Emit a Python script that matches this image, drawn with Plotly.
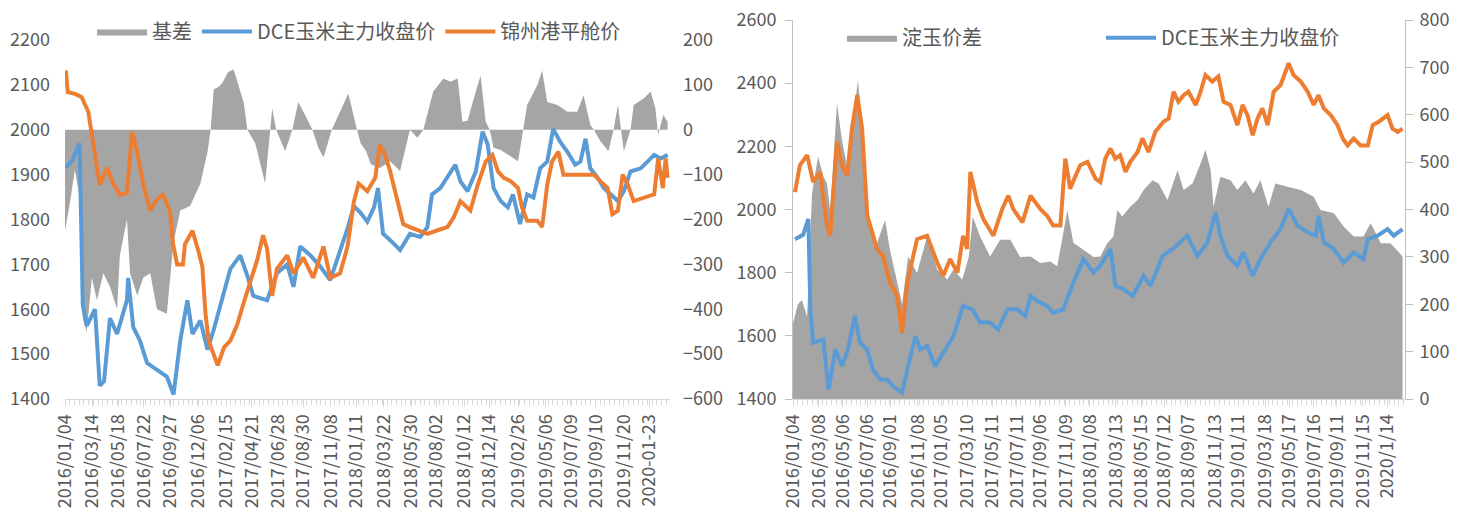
import plotly.graph_objects as go

# ---------------- Left panel data ----------------
basis_dates = ["2016-01-04","2016-01-17","2016-01-29","2016-02-10","2016-02-18","2016-02-28","2016-03-12","2016-03-25",
               "2016-04-10","2016-04-27","2016-05-15","2016-05-22","2016-06-09","2016-06-17","2016-07-05","2016-07-20",
               "2016-08-07","2016-08-24","2016-09-18","2016-10-05","2016-10-22","2016-11-16","2016-12-12","2016-12-30",
               "2017-01-07","2017-01-15","2017-01-27","2017-02-06","2017-02-20","2017-03-06","2017-03-15","2017-04-01",
               "2017-04-10","2017-04-30","2017-05-17","2017-05-25","2017-06-07","2017-06-12","2017-06-22","2017-07-15",
               "2017-08-02","2017-08-17","2017-08-30","2017-09-22","2017-10-07","2017-10-20","2017-11-10","2017-11-25",
               "2017-12-22","2018-01-10","2018-01-22","2018-02-05","2018-02-17","2018-03-12","2018-04-07","2018-05-02",
               "2018-05-27","2018-06-15","2018-06-30","2018-07-25","2018-08-20","2018-09-07","2018-09-25","2018-10-07",
               "2018-10-20","2018-11-05","2018-11-22","2018-12-05","2018-12-15","2018-12-25","2019-01-12","2019-01-30",
               "2019-02-25","2019-03-10","2019-03-20","2019-04-15","2019-04-27","2019-05-10","2019-06-05","2019-06-30",
               "2019-07-25","2019-08-10","2019-08-27","2019-09-05","2019-09-22","2019-10-12","2019-10-25","2019-11-05",
               "2019-11-12","2019-11-20","2019-12-07","2019-12-15","2020-01-10","2020-01-27","2020-02-08","2020-02-15",
               "2020-02-28","2020-03-10"]
basis_values = [-225,-160,-90,-150,-420,-450,-330,-380,
                -320,-350,-400,-280,-200,-320,-370,-330,
                -320,-400,-410,-250,-180,-170,-120,-50,
                0,90,95,105,128,135,110,60,
                0,-30,-90,-120,0,48,0,-48,
                0,62,40,0,-40,-62,0,30,
                81,10,-30,-48,-77,-85,-70,-92,
                0,-18,0,85,114,107,114,18,
                20,70,121,18,0,-40,-45,-55,
                -70,0,55,100,132,62,55,40,
                40,77,11,0,-26,-48,0,55,
                0,-48,0,55,70,85,48,-11,
                33,18]

dce_left_dates = ["2016-01-04","2016-01-22","2016-02-10","2016-02-18","2016-02-28","2016-03-20","2016-04-01","2016-04-12",
                  "2016-04-27","2016-05-15","2016-06-09","2016-06-12","2016-06-25","2016-07-12","2016-07-30","2016-08-24",
                  "2016-09-18","2016-10-05","2016-10-22","2016-11-09","2016-11-22","2016-12-12","2016-12-30","2017-01-15",
                  "2017-02-01","2017-02-26","2017-03-23","2017-04-10","2017-04-25","2017-05-30","2017-06-24","2017-07-20",
                  "2017-08-05","2017-08-22","2017-09-17","2017-10-12","2017-11-06","2017-11-24","2017-12-20","2018-01-05",
                  "2018-01-22","2018-02-08","2018-02-25","2018-03-07","2018-03-20","2018-04-07","2018-05-02","2018-05-27",
                  "2018-06-22","2018-07-10","2018-07-22","2018-08-12","2018-08-30","2018-09-19","2018-10-02","2018-10-20",
                  "2018-11-10","2018-11-27","2018-12-10","2018-12-25","2019-01-12","2019-01-30","2019-02-12","2019-03-02",
                  "2019-03-20","2019-04-05","2019-04-22","2019-05-10","2019-05-25","2019-06-12","2019-06-30","2019-07-20",
                  "2019-08-02","2019-08-15","2019-08-27","2019-09-15","2019-09-30","2019-10-17","2019-11-05","2019-11-20",
                  "2019-12-07","2020-01-02","2020-01-20","2020-02-05","2020-02-22","2020-03-10"]
dce_left_values = [1915,1930,1970,1610,1563,1600,1430,1440,
                   1580,1545,1620,1670,1560,1530,1480,1465,
                   1450,1410,1530,1620,1545,1575,1510,1555,
                   1610,1690,1720,1675,1630,1620,1680,1700,
                   1650,1740,1720,1695,1665,1710,1780,1830,
                   1815,1795,1827,1870,1768,1754,1732,1768,
                   1761,1783,1856,1870,1893,1922,1885,1863,
                   1907,1996,1967,1870,1841,1827,1856,1790,
                   1856,1849,1914,1929,2002,1973,1951,1922,
                   1929,1980,1914,1893,1870,1856,1841,1863,
                   1907,1914,1929,1944,1936,1944]

jinzhou_dates = ["2016-01-06","2016-01-11","2016-01-29","2016-02-15","2016-03-03","2016-03-15","2016-03-27","2016-04-01",
                 "2016-04-20","2016-05-05","2016-05-22","2016-06-09","2016-06-22","2016-07-05","2016-07-20","2016-08-07",
                 "2016-08-24","2016-09-08","2016-09-26","2016-10-04","2016-10-14","2016-10-29","2016-11-03","2016-11-22",
                 "2016-12-07","2016-12-17","2016-12-25","2017-01-02","2017-01-25","2017-02-10","2017-02-26","2017-03-15",
                 "2017-04-01","2017-04-17","2017-05-05","2017-05-20","2017-05-30","2017-06-12","2017-06-24","2017-07-20",
                 "2017-08-05","2017-08-30","2017-09-24","2017-10-20","2017-11-06","2017-12-01","2017-12-20","2018-01-05",
                 "2018-01-17","2018-02-08","2018-02-28","2018-03-12","2018-03-25","2018-04-07","2018-04-25","2018-05-10",
                 "2018-05-27","2018-06-17","2018-07-10","2018-08-05","2018-08-30","2018-09-15","2018-10-02","2018-10-27",
                 "2018-11-15","2018-12-05","2018-12-22","2019-01-05","2019-01-20","2019-02-07","2019-02-25","2019-03-07",
                 "2019-03-20","2019-04-15","2019-04-27","2019-05-10","2019-05-22","2019-06-07","2019-06-20","2019-07-15",
                 "2019-09-05","2019-09-22","2019-10-10","2019-10-22","2019-11-05","2019-11-17","2019-11-30","2019-12-15",
                 "2020-01-10","2020-02-05","2020-02-15","2020-02-27","2020-03-05","2020-03-10"]
jinzhou_values = [2132,2084,2080,2073,2040,1968,1893,1877,
                  1915,1880,1855,1860,1995,1950,1880,1820,
                  1845,1855,1820,1745,1700,1700,1745,1775,
                  1730,1695,1590,1530,1475,1515,1530,1565,
                  1615,1660,1710,1765,1735,1630,1690,1720,
                  1680,1715,1670,1740,1670,1680,1740,1840,
                  1880,1863,1893,1966,1944,1907,1841,1790,
                  1783,1776,1768,1776,1783,1805,1841,1820,
                  1878,1929,1944,1907,1893,1885,1870,1827,
                  1797,1797,1783,1878,1929,1951,1900,1900,
                  1900,1885,1870,1812,1820,1900,1878,1841,
                  1849,1856,1936,1870,1936,1893]

left_tick_dates = ["2016-01-04","2016-03-14","2016-05-18","2016-07-22","2016-09-27","2016-12-06","2017-02-15",
                   "2017-04-21","2017-06-28","2017-08-30","2017-11-08","2018-01-11","2018-03-22","2018-05-30",
                   "2018-08-02","2018-10-12","2018-12-14","2019-02-26","2019-05-06","2019-07-09","2019-09-10",
                   "2019-11-20","2020-01-23"]
left_tick_text = ["2016/01/04","2016/03/14","2016/05/18","2016/07/22","2016/09/27","2016/12/06","2017/02/15",
                  "2017/04/21","2017/06/28","2017/08/30","2017/11/08","2018/01/11","2018/03/22","2018/05/30",
                  "2018/08/02","2018/10/12","2018/12/14","2019/02/26","2019/05/06","2019/07/09","2019/09/10",
                  "2019/11/20","2020-01-23"]

# ---------------- Right panel data ----------------
spread_dates = ["2016-01-04","2016-01-16","2016-01-26","2016-02-08","2016-02-20","2016-03-06","2016-03-19","2016-03-28",
                "2016-04-05","2016-04-22","2016-05-04","2016-05-17","2016-06-01","2016-06-13","2016-06-26","2016-07-08",
                "2016-07-30","2016-08-19","2016-08-31","2016-09-18","2016-09-30","2016-10-15","2016-11-06","2016-12-01",
                "2016-12-26","2017-01-20","2017-02-04","2017-02-26","2017-03-14","2017-03-24","2017-04-11","2017-05-06",
                "2017-05-31","2017-06-25","2017-07-19","2017-08-14","2017-09-07","2017-10-02","2017-10-19","2017-11-03",
                "2017-11-13","2017-11-28","2017-12-23","2018-01-17","2018-02-03","2018-02-20","2018-03-07","2018-03-17",
                "2018-03-29","2018-04-18","2018-05-06","2018-05-21","2018-06-12","2018-06-27","2018-07-19","2018-08-13",
                "2018-08-28","2018-09-19","2018-10-09","2018-10-21","2018-11-03","2018-11-10","2018-11-27","2018-12-22",
                "2019-01-08","2019-01-28","2019-02-17","2019-03-06","2019-03-26","2019-04-12","2019-05-12","2019-06-14",
                "2019-07-16","2019-08-02","2019-09-04","2019-09-28","2019-10-23","2019-11-16","2019-12-04","2019-12-29",
                "2020-01-22","2020-02-21"]
spread_values = [160,200,209,174,434,512,470,455,
                 399,624,547,491,596,673,526,392,
                 329,378,315,245,200,301,266,343,
                 273,252,273,252,300,385,343,301,
                 336,336,300,301,287,290,280,350,
                 399,330,315,300,301,329,343,399,
                 385,406,420,441,462,455,420,483,
                 441,455,497,526,483,406,469,462,
                 441,462,434,462,406,455,448,441,
                 427,399,392,364,343,343,371,329,
                 329,301]

dce_right_dates = ["2016-01-09","2016-01-29","2016-02-11","2016-02-16","2016-02-23","2016-03-19","2016-04-01","2016-04-18",
                   "2016-05-04","2016-05-19","2016-06-05","2016-06-18","2016-07-05","2016-07-20","2016-08-07","2016-08-24",
                   "2016-09-08","2016-09-30","2016-10-13","2016-11-02","2016-11-14","2016-12-01","2016-12-21","2017-01-10",
                   "2017-02-04","2017-02-28","2017-03-23","2017-04-11","2017-05-06","2017-05-26","2017-06-18","2017-07-12",
                   "2017-08-01","2017-08-14","2017-09-07","2017-09-24","2017-10-09","2017-11-03","2017-11-28","2017-12-23",
                   "2018-01-17","2018-02-03","2018-02-28","2018-03-12","2018-04-01","2018-04-24","2018-05-21","2018-06-07",
                   "2018-07-07","2018-08-01","2018-08-20","2018-09-06","2018-10-01","2018-10-26","2018-11-15","2018-11-27",
                   "2018-12-15","2019-01-08","2019-01-23","2019-02-15","2019-03-06","2019-03-31","2019-04-25","2019-05-15",
                   "2019-06-06","2019-07-01","2019-07-21","2019-07-28","2019-08-10","2019-09-04","2019-09-28","2019-10-23",
                   "2019-11-16","2019-11-27","2019-12-21","2020-01-15","2020-01-30","2020-02-21"]
dce_right_values = [1906,1920,1970,1684,1578,1588,1430,1557,
                    1504,1557,1663,1578,1557,1493,1462,1462,
                    1440,1420,1493,1599,1557,1568,1504,1546,
                    1599,1695,1684,1642,1642,1620,1684,1684,
                    1663,1726,1705,1695,1673,1684,1769,1843,
                    1800,1822,1875,1758,1748,1726,1790,1758,
                    1853,1875,1896,1917,1853,1896,1991,1917,
                    1853,1822,1864,1790,1843,1896,1938,2002,
                    1949,1928,1917,1980,1896,1875,1832,1864,
                    1843,1906,1917,1938,1917,1938]

starch_dates = ["2016-01-09","2016-01-21","2016-02-08","2016-02-23","2016-03-11","2016-03-28","2016-04-05","2016-04-22",
                "2016-05-04","2016-05-17","2016-05-29","2016-06-11","2016-06-23","2016-07-06","2016-07-30","2016-08-14",
                "2016-08-31","2016-09-18","2016-09-30","2016-10-13","2016-11-06","2016-12-01","2016-12-26","2017-01-10",
                "2017-01-27","2017-02-14","2017-02-28","2017-03-10","2017-03-18","2017-04-04","2017-04-19","2017-05-14",
                "2017-06-05","2017-06-20","2017-07-02","2017-07-25","2017-08-14","2017-09-07","2017-09-24","2017-10-09",
                "2017-10-27","2017-11-08","2017-11-20","2017-12-15","2018-01-02","2018-01-22","2018-02-03","2018-02-15",
                "2018-02-28","2018-03-12","2018-03-24","2018-04-06","2018-04-18","2018-05-06","2018-05-18","2018-06-02",
                "2018-06-19","2018-07-09","2018-07-22","2018-08-03","2018-08-15","2018-08-28","2018-09-09","2018-09-27",
                "2018-10-09","2018-10-21","2018-11-07","2018-11-22","2018-12-05","2018-12-22","2019-01-08","2019-01-21",
                "2019-02-02","2019-02-15","2019-02-27","2019-03-11","2019-03-24","2019-04-08","2019-04-25","2019-05-07",
                "2019-05-15","2019-05-27","2019-06-14","2019-07-01","2019-07-16","2019-07-28","2019-08-10","2019-08-27",
                "2019-09-13","2019-09-26","2019-10-08","2019-10-23","2019-11-09","2019-11-27","2019-12-09","2019-12-24",
                "2020-01-15","2020-01-27","2020-02-09","2020-02-21"]
starch_values = [2055,2140,2172,2087,2119,1949,1917,2214,
                 2140,2108,2257,2362,2257,1980,1875,1853,
                 1769,1726,1610,1769,1906,1917,1832,1790,
                 1843,1800,1917,1875,2119,2023,1970,1917,
                 2002,2044,2002,1959,2044,2002,1980,1949,
                 1949,2161,2066,2140,2151,2098,2087,2161,
                 2193,2161,2172,2119,2151,2182,2225,2182,
                 2246,2278,2288,2373,2341,2362,2373,2331,
                 2373,2426,2405,2421,2341,2331,2267,2331,
                 2299,2235,2288,2320,2267,2373,2394,2437,
                 2463,2426,2405,2373,2331,2362,2320,2299,
                 2267,2225,2203,2225,2203,2203,2267,2278,
                 2299,2256,2246,2256]

right_tick_dates = ["2016-01-04","2016-03-08","2016-05-06","2016-07-06","2016-09-01","2016-11-08","2017-01-05",
                    "2017-03-10","2017-05-11","2017-07-11","2017-09-06","2017-11-09","2018-01-08","2018-03-13",
                    "2018-05-15","2018-07-12","2018-09-07","2018-11-13","2019-01-11","2019-03-18","2019-05-17",
                    "2019-07-16","2019-09-11","2019-11-15","2020-01-14"]
right_tick_text = ["2016/01/04","2016/03/08","2016/05/06","2016/07/06","2016/09/01","2016/11/08","2017/01/05",
                   "2017/03/10","2017/05/11","2017/07/11","2017/09/06","2017/11/09","2018/01/08","2018/03/13",
                   "2018/05/15","2018/07/12","2018/09/07","2018/11/13","2019/01/11","2019/03/18","2019/05/17",
                   "2019/07/16","2019/09/11","2019/11/15","2020/1/14"]

GREY = "#A5A5A5"
BLUE = "#5B9BD5"
ORANGE = "#ED7D31"
TXT = "#595959"
FONT = "Noto Sans CJK SC"
W, H = 1467, 518

fig = go.Figure()

# Left panel
fig.add_trace(go.Scatter(x=basis_dates, y=basis_values, name="基差", mode="lines",
                         line=dict(width=0, color=GREY), fill="tozeroy", fillcolor=GREY,
                         xaxis="x", yaxis="y", legend="legend"))
fig.add_trace(go.Scatter(x=dce_left_dates, y=dce_left_values, name="DCE玉米主力收盘价", mode="lines",
                         line=dict(width=4, color=BLUE), xaxis="x", yaxis="y2", legend="legend"))
fig.add_trace(go.Scatter(x=jinzhou_dates, y=jinzhou_values, name="锦州港平舱价", mode="lines",
                         line=dict(width=4, color=ORANGE), xaxis="x", yaxis="y2", legend="legend"))

# Right panel
fig.add_trace(go.Scatter(x=spread_dates, y=spread_values, name="淀玉价差", mode="lines",
                         line=dict(width=0, color=GREY), fill="tozeroy", fillcolor=GREY,
                         xaxis="x2", yaxis="y3", legend="legend2"))
fig.add_trace(go.Scatter(x=dce_right_dates, y=dce_right_values, name="DCE玉米主力收盘价", mode="lines",
                         line=dict(width=4, color=BLUE), xaxis="x2", yaxis="y4", legend="legend2"))
fig.add_trace(go.Scatter(x=starch_dates, y=starch_values, name="玉米淀粉价格", mode="lines",
                         line=dict(width=4, color=ORANGE), xaxis="x2", yaxis="y4", showlegend=False))

tickfont = dict(family=FONT, size=18, color=TXT)
DAY = 86400000

xcommon = dict(type="date", showgrid=False, zeroline=False, showline=True, linecolor="#d9d9d9",
               ticks="outside", ticklen=7, tickcolor="#d9d9d9", tickangle=-90, tickfont=tickfont,
               automargin=False,
               minor=dict(ticks="outside", ticklen=5, tickcolor="#d9d9d9", dtick=12 * DAY, tick0="2016-01-04",
                          showgrid=False))

ybot = (H - 399) / H
legfont = dict(family=FONT, size=20, color=TXT)
fig.update_layout(
    width=W, height=H,
    margin=dict(l=0, r=0, t=0, b=0, autoexpand=False),
    paper_bgcolor="white", plot_bgcolor="white",
    font=dict(family=FONT, color=TXT),
    xaxis=dict(domain=[65 / W, 670 / W], range=["2016-01-04", "2020-03-16"], anchor="y",
               tickmode="array", tickvals=left_tick_dates, ticktext=left_tick_text, **xcommon),
    yaxis=dict(domain=[ybot, (H - 40) / H], range=[-600, 200], side="right", anchor="x",
               dtick=100, showgrid=False, zeroline=False, showline=False, ticks="",
               tickfont=tickfont, ticklabelstandoff=12, automargin=False),
    yaxis2=dict(range=[1400, 2200], overlaying="y", side="left", anchor="x",
                dtick=100, showgrid=False, zeroline=False, showline=False, ticks="",
                tickfont=tickfont, ticklabelstandoff=14, automargin=False),
    xaxis2=dict(domain=[793 / W, 1405 / W], range=["2016-01-04", "2020-02-27"], anchor="y3",
                tickmode="array", tickvals=right_tick_dates, ticktext=right_tick_text, **xcommon),
    yaxis3=dict(domain=[ybot, (H - 20) / H], range=[0, 800], side="right", anchor="x2",
                dtick=100, showgrid=False, zeroline=False, showline=True, linecolor="#bfbfbf",
                ticks="outside", ticklen=7, tickcolor="#bfbfbf", tickfont=tickfont, ticklabelstandoff=3,
                automargin=False),
    yaxis4=dict(range=[1400, 2600], overlaying="y3", side="left", anchor="x2",
                dtick=200, showgrid=False, zeroline=False, showline=True, linecolor="#bfbfbf",
                ticks="outside", ticklen=7, tickcolor="#bfbfbf", tickfont=tickfont, ticklabelstandoff=5,
                automargin=False),
    legend=dict(orientation="h", x=92 / W, xanchor="left", y=0.977, yanchor="top",
                font=legfont, itemwidth=50, bgcolor="rgba(0,0,0,0)"),
    legend2=dict(orientation="h", x=842 / W, xanchor="left", y=0.965, yanchor="top",
                 font=legfont, itemwidth=50, entrywidth=194, bgcolor="rgba(0,0,0,0)"),
    showlegend=True,
)

fig.write_html("out.html", config={"displayModeBar": False},
               post_script="document.body.style.margin='0';document.body.style.overflow='hidden';")
